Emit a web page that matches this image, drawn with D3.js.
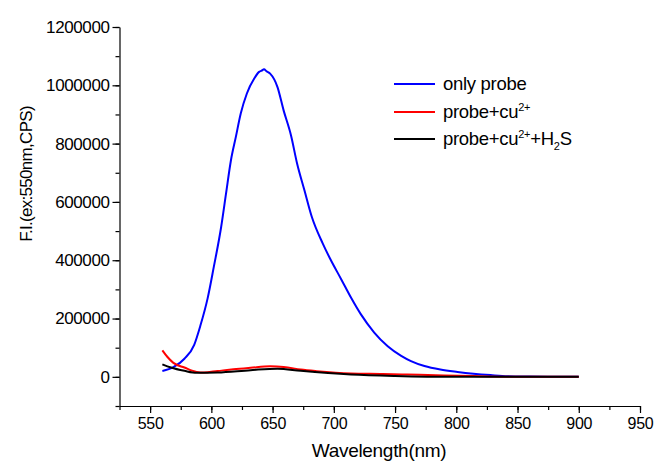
<!DOCTYPE html>
<html>
<head>
<meta charset="utf-8">
<script src="https://cdn.jsdelivr.net/npm/d3@7"></script>
<style>
  body { margin: 0; background: #fff; }
  text { font-family: "Liberation Sans", Arial, sans-serif; fill: #000; }
</style>
</head>
<body>
<div id="chart"></div>
<script>
// emission spectra, wavelength (nm) vs intensity (CPS)
var blue_wl  = [560, 569, 578, 586, 591, 597, 602, 608, 612, 616, 620, 624, 629, 635, 639, 641, 643, 645, 648, 654, 659, 665, 670, 676, 682, 691, 697, 706, 714, 722, 733, 744, 755, 763, 774, 787, 801, 814, 828, 842, 860, 880, 900];
var blue_val = [20000, 33000, 62000, 110000, 175000, 270000, 377000, 514000, 629000, 743000, 823000, 903000, 972000, 1023000, 1046000, 1050000, 1055000, 1048000, 1040000, 994000, 914000, 829000, 732000, 640000, 549000, 457000, 405000, 335000, 272000, 215000, 152000, 105000, 72000, 54000, 37000, 25000, 17000, 11000, 6000, 2000, 1000, 500, 0];

var red_wl  = [560, 564, 569, 578, 588, 594, 605, 618, 632, 648, 659, 673, 686, 714, 740, 760, 790, 814, 840, 870, 900];
var red_val = [91000, 69000, 48000, 32000, 17000, 15000, 20000, 26000, 31000, 36000, 34000, 25000, 19500, 11700, 10000, 8000, 5000, 2500, 500, 0, 0];

var black_wl  = [560, 567, 578, 588, 605, 632, 654, 673, 714, 750, 800, 850, 900];
var black_val = [43000, 32000, 20600, 13700, 15000, 23000, 28000, 20600, 8200, 3000, 0, 0, 0];

var x_ticks = [550, 600, 650, 700, 750, 800, 850, 900, 950];
var y_ticks = [0, 200000, 400000, 600000, 800000, 1000000, 1200000];

var width  = 654;
var height = 463;

var x_scale = d3.scaleLinear().domain([525, 950]).range([119.5, 640]);
var y_scale = d3.scaleLinear().domain([-100000, 1200000]).range([406, 27]);

var svg = d3.select('#chart')
            .append('svg')
            .attr('width', width)
            .attr('height', height);

// minor ticks first, then the labelled axes on top
svg.append('g')
   .attr('transform', 'translate(0,406)')
   .call(d3.axisBottom(x_scale).tickValues(d3.range(525, 951, 25)).tickSize(4).tickFormat(''))
   .call(function(g) { g.select('.domain').remove(); });
svg.append('g')
   .attr('transform', 'translate(119.5,0)')
   .call(d3.axisLeft(y_scale).tickValues(d3.range(-100000, 1200001, 100000)).tickSize(4).tickFormat(''))
   .call(function(g) { g.select('.domain').remove(); });

svg.append('g')
   .attr('class', 'x-axis')
   .attr('transform', 'translate(0,406)')
   .call(d3.axisBottom(x_scale).tickValues(x_ticks).tickSize(7).tickSizeOuter(0).tickPadding(5));
svg.append('g')
   .attr('class', 'y-axis')
   .attr('transform', 'translate(119.5,0)')
   .call(d3.axisLeft(y_scale).tickValues(y_ticks).tickSize(7).tickSizeOuter(0).tickPadding(3).tickFormat(d3.format('d')));

svg.selectAll('.tick line, .domain').attr('stroke', '#000').attr('stroke-width', 1.2);
svg.selectAll('.x-axis .tick text').style('font-size', '16px').style('letter-spacing', '-0.3px').attr('fill', '#000');
svg.selectAll('.y-axis .tick text').style('font-size', '17px').style('letter-spacing', '-0.4px').attr('fill', '#000');

// axis titles
svg.append('text')
   .attr('x', 379).attr('y', 457)
   .attr('text-anchor', 'middle')
   .style('font-size', '19px')
   .style('letter-spacing', '-0.3px')
   .text('Wavelength(nm)');
svg.append('text')
   .attr('transform', 'translate(32,174) rotate(-90)')
   .attr('text-anchor', 'middle')
   .style('font-size', '17px')
   .style('letter-spacing', '-0.7px')
   .text('F.I.(ex:550nm,CPS)');

// curves
var line = d3.line()
             .curve(d3.curveMonotoneX)
             .x(function(d) { return x_scale(d[0]); })
             .y(function(d) { return y_scale(d[1]); });

var series = [
  { wl: blue_wl,  val: blue_val,  color: '#0000ff' },
  { wl: red_wl,   val: red_val,   color: '#ff0000' },
  { wl: black_wl, val: black_val, color: '#000000' }
];

series.forEach(function(s) {
  svg.append('path')
     .datum(d3.zip(s.wl, s.val))
     .attr('fill', 'none')
     .attr('stroke', s.color)
     .attr('stroke-width', 2)
     .attr('stroke-linejoin', 'round')
     .attr('d', line);
});

// legend
var legend_y = [84, 112, 139];
series.forEach(function(s, i) {
  svg.append('line')
     .attr('x1', 394).attr('x2', 435)
     .attr('y1', legend_y[i]).attr('y2', legend_y[i])
     .attr('stroke', s.color).attr('stroke-width', 2);
});

var fs = '18.5px';
svg.append('text').attr('x', 443).attr('y', 84 + 6).style('font-size', fs).style('letter-spacing', '-0.3px').text('only probe');

var t2 = svg.append('text').attr('x', 443).attr('y', 112 + 6).style('font-size', fs).style('letter-spacing', '-0.3px');
t2.append('tspan').text('probe+cu');
t2.append('tspan').attr('dy', -7).style('font-size', '11px').text('2+');

var t3 = svg.append('text').attr('x', 443).attr('y', 139 + 6).style('font-size', fs).style('letter-spacing', '-0.3px');
t3.append('tspan').text('probe+cu');
t3.append('tspan').attr('dy', -7).style('font-size', '11px').text('2+');
t3.append('tspan').attr('dy', 7).text('+H');
t3.append('tspan').attr('dy', 5).style('font-size', '11px').text('2');
t3.append('tspan').attr('dy', -5).text('S');
</script>
</body>
</html>
